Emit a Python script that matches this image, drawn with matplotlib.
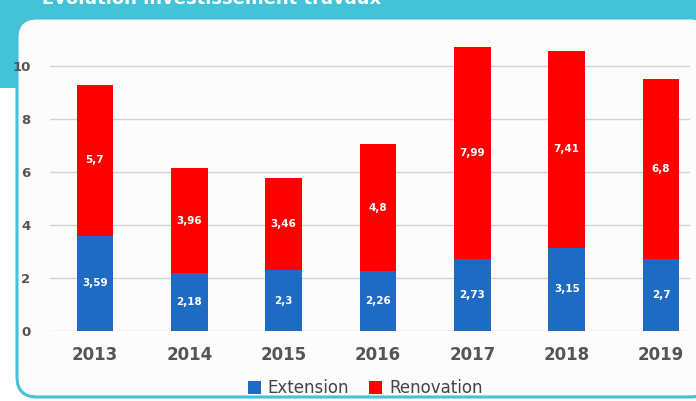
import matplotlib
matplotlib.use("Agg")
from matplotlib import pyplot as plt
from matplotlib.patches import FancyBboxPatch, Rectangle, Patch
import numpy as np

years = ["2013", "2014", "2015", "2016", "2017", "2018", "2019"]
extension = [3.59, 2.18, 2.3, 2.26, 2.73, 3.15, 2.7]
renovation = [5.7, 3.96, 3.46, 4.8, 7.99, 7.41, 6.8]
ext_labels = ["3,59", "2,18", "2,3", "2,26", "2,73", "3,15", "2,7"]
ren_labels = ["5,7", "3,96", "3,46", "4,8", "7,99", "7,41", "6,8"]

CYAN = "#43C2D8"
BLUE = "#1F6BC4"
RED = "#FF0000"
GREY = "#555555"

W, H = 696, 401
fig = plt.figure(figsize=(W / 100, H / 100), dpi=100)
fig.patch.set_facecolor("white")


def px(x, y):
    # pixel (top-left origin) -> inches for dpi_scale_trans
    return x / 100, (H - y) / 100


# cyan header band
x0, y0 = px(0, 88)
fig.patches.append(Rectangle((x0, y0), W / 100, 88 / 100, facecolor=CYAN,
                             edgecolor="none", transform=fig.dpi_scale_trans,
                             zorder=0))
# white rounded panel with cyan rim, running off the right edge
bx, by = px(17, 397)
panel = FancyBboxPatch((bx + 0.2, by + 0.2), (710 - 17) / 100 - 0.4,
                       (397 - 18) / 100 - 0.4,
                       boxstyle="round,pad=0.2", facecolor="#FCFCFC",
                       edgecolor=CYAN, linewidth=2.2,
                       transform=fig.dpi_scale_trans, zorder=1)
fig.patches.append(panel)

# title, cut off at the top edge as in the photo
fig.text(42 / W, 1.003, "Evolution investissement travaux",
         color="white", fontsize=13, fontweight="bold", va="center",
         ha="left", zorder=3)

ax = fig.add_axes([50 / W, 1 - 331 / H, 640 / W, 291.5 / H])
ax.set_facecolor("none")
ax.set_zorder(2)

x = np.arange(len(years))
width = 0.39
ax.bar(x, extension, width, color=BLUE, zorder=3)
ax.bar(x, renovation, width, bottom=extension, color=RED, zorder=3)

for i in range(len(years)):
    ax.text(x[i], extension[i] / 2, ext_labels[i], color="white",
            fontsize=7.5, fontweight="bold", ha="center", va="center",
            zorder=4)
    ax.text(x[i], extension[i] + renovation[i] / 2, ren_labels[i],
            color="white", fontsize=7.5, fontweight="bold", ha="center",
            va="center", zorder=4)

ax.set_xlim(-0.477, 6.307)
ax.set_ylim(0, 11)
ax.set_yticks([0, 2, 4, 6, 8, 10])
ax.yaxis.grid(True, color="#D3D3D3", linewidth=1)
ax.set_axisbelow(True)
for s in ax.spines.values():
    s.set_visible(False)
ax.set_xticks(x)
ax.set_xticklabels(years)
ax.tick_params(axis="x", length=0, pad=11, labelsize=12, labelcolor=GREY)
ax.tick_params(axis="y", length=0, pad=14, labelsize=9.5, labelcolor=GREY)
for lab in ax.get_xticklabels() + ax.get_yticklabels():
    lab.set_fontweight("bold")

handles = [Patch(facecolor=BLUE, label="Extension"),
           Patch(facecolor=RED, label="Renovation")]
fig.legend(handles=handles, loc="center", bbox_to_anchor=(365 / W, 1 - 388 / H),
           ncol=2, frameon=False, fontsize=12, handlelength=0.8,
           handleheight=0.8, handletextpad=0.4, columnspacing=1.2,
           labelcolor="#444444")

fig.savefig("out.png", dpi=100, facecolor=fig.get_facecolor())
